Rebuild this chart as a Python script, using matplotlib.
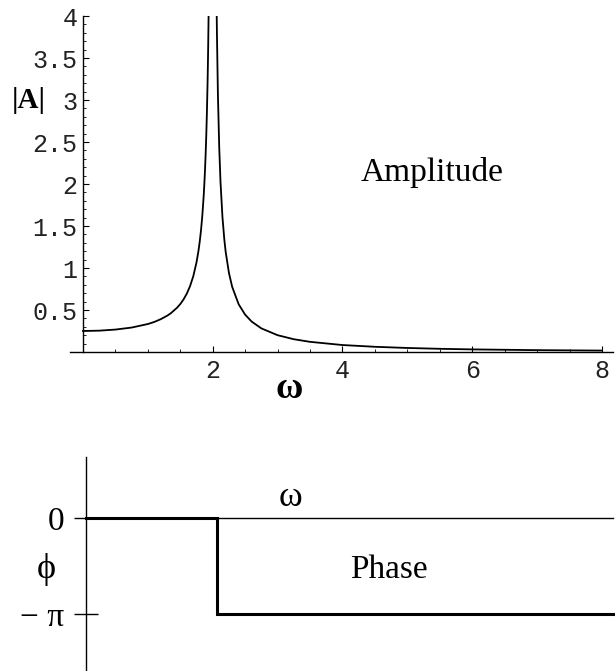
import numpy as np
import matplotlib
matplotlib.use("Agg")
import matplotlib.pyplot as plt
from matplotlib.ticker import FixedLocator, MultipleLocator

# ---- data ----
omega_left = [0.0, 0.25, 0.5, 0.75, 1.0, 1.1, 1.2, 1.3, 1.35, 1.45, 1.5, 1.55, 1.6,
              1.65, 1.7, 1.75, 1.78, 1.8, 1.82, 1.84, 1.86, 1.87, 1.88, 1.89, 1.9,
              1.91, 1.92, 1.925, 1.93, 1.94]
amp_left = [0.250, 0.254, 0.267, 0.291, 0.333, 0.358, 0.391, 0.433, 0.459, 0.527,
            0.571, 0.626, 0.694, 0.783, 0.901, 1.067, 1.203, 1.316, 1.454, 1.628,
            1.851, 1.988, 2.148, 2.337, 2.564, 2.842, 3.189, 3.397, 3.635, 4.23]
omega_right = [2.06, 2.065, 2.08, 2.1, 2.12, 2.15, 2.18, 2.2, 2.25, 2.3, 2.4, 2.5,
               2.6, 2.75, 3.0, 3.25, 3.5, 4.0, 4.5, 5.0, 5.5, 6.0, 7.0, 8.0]
amp_right = [4.105, 3.785, 3.064, 2.439, 2.023, 1.606, 1.329, 1.190, 0.941, 0.775,
             0.568, 0.444, 0.362, 0.281, 0.200, 0.152, 0.121, 0.083, 0.062, 0.048,
             0.038, 0.031, 0.022, 0.017]

amp_xticks = [2, 4, 6, 8]
amp_xticklabels = ["2", "4", "6", "8"]
amp_yticks = [0.5, 1.0, 1.5, 2.0, 2.5, 3.0, 3.5, 4.0]
amp_yticklabels = ["0.5", "1", "1.5", "2", "2.5", "3", "3.5", "4"]

omega_phase = [0.0, 2.0, 2.0, 8.05]
phase = [0.0, 0.0, -np.pi, -np.pi]
phase_yticks = [0.0, -np.pi]
phase_yticklabels = ["0", "\u2212 \u03c0"]

W, H = 615, 671
fig = plt.figure(figsize=(W / 100, H / 100), dpi=100)

def fx(px):
    return px / W

def fy(py):
    return (H - py) / H

mono = "Liberation Mono"
serif = "Liberation Serif"

# ---- amplitude plot ----
ax1 = fig.add_axes([fx(70), fy(352), fx(613) - fx(70), fy(16) - fy(352)])
ax1.set_xlim(-0.2, 8.17)
ax1.set_ylim(0, 4.0)
for s in ["top", "right"]:
    ax1.spines[s].set_visible(False)
ax1.spines["left"].set_position(("data", 0))
ax1.spines["bottom"].set_position(("data", 0))
ax1.spines["left"].set_linewidth(1.0)
ax1.spines["bottom"].set_linewidth(1.0)
ax1.plot(omega_left, amp_left, color="black", lw=1.3, clip_on=True)
ax1.plot(omega_right, amp_right, color="black", lw=1.3, clip_on=True)

ax1.xaxis.set_major_locator(FixedLocator(amp_xticks))
ax1.set_xticklabels(amp_xticklabels)
ax1.xaxis.set_minor_locator(MultipleLocator(0.5))
ax1.yaxis.set_major_locator(FixedLocator(amp_yticks))
ax1.set_yticklabels(amp_yticklabels)
ax1.yaxis.set_minor_locator(FixedLocator([v / 10 for v in range(1, 40)]))
ax1.tick_params(axis="both", which="major", direction="in", length=4, width=0.8,
                labelsize=18)
ax1.tick_params(axis="both", which="minor", direction="in", length=2.2, width=0.6)
ax1.tick_params(axis="x", which="major", pad=5)
ax1.tick_params(axis="y", which="major", pad=4)
for lab in ax1.get_xticklabels() + ax1.get_yticklabels():
    lab.set_family(mono)
    lab.set_color("#222222")

fig.text(fx(29), fy(100), "|A|", family=serif, weight="bold", fontsize=21,
         ha="center", va="center")
fig.text(fx(289), fy(389), "\u03c9", family=serif, weight="bold", fontsize=27,
         ha="center", va="center")
fig.text(fx(432), fy(172), "Amplitude", family=serif, fontsize=24,
         ha="center", va="center")

# ---- phase plot ----
ax2 = fig.add_axes([fx(86), fy(671), fx(613) - fx(86), fy(457) - fy(671)])
ax2.set_xlim(0, 8.05)
ax2.set_ylim(-5.0, 2.0)
for s in ["top", "right"]:
    ax2.spines[s].set_visible(False)
ax2.spines["bottom"].set_position(("data", 0))
ax2.spines["left"].set_linewidth(1.0)
ax2.spines["bottom"].set_linewidth(1.0)
ax2.plot(omega_phase, phase, color="black", lw=2.2, clip_on=False,
         solid_joinstyle="miter")
ax2.set_xticks([])
ax2.yaxis.set_major_locator(FixedLocator(phase_yticks))
ax2.set_yticklabels(phase_yticklabels)
ax2.tick_params(axis="y", which="major", direction="inout", length=17, width=1.0,
                labelsize=24, pad=7)
for lab in ax2.get_yticklabels():
    lab.set_family(serif)

fig.text(fx(46), fy(570), "\u03d5", family=serif, fontsize=26,
         ha="center", va="center")
fig.text(fx(291), fy(497), "\u03c9", family=serif, fontsize=26,
         ha="center", va="center")
fig.text(fx(389), fy(570), "Phase", family=serif, fontsize=24,
         ha="center", va="center")

fig.savefig("out.png", dpi=100)
